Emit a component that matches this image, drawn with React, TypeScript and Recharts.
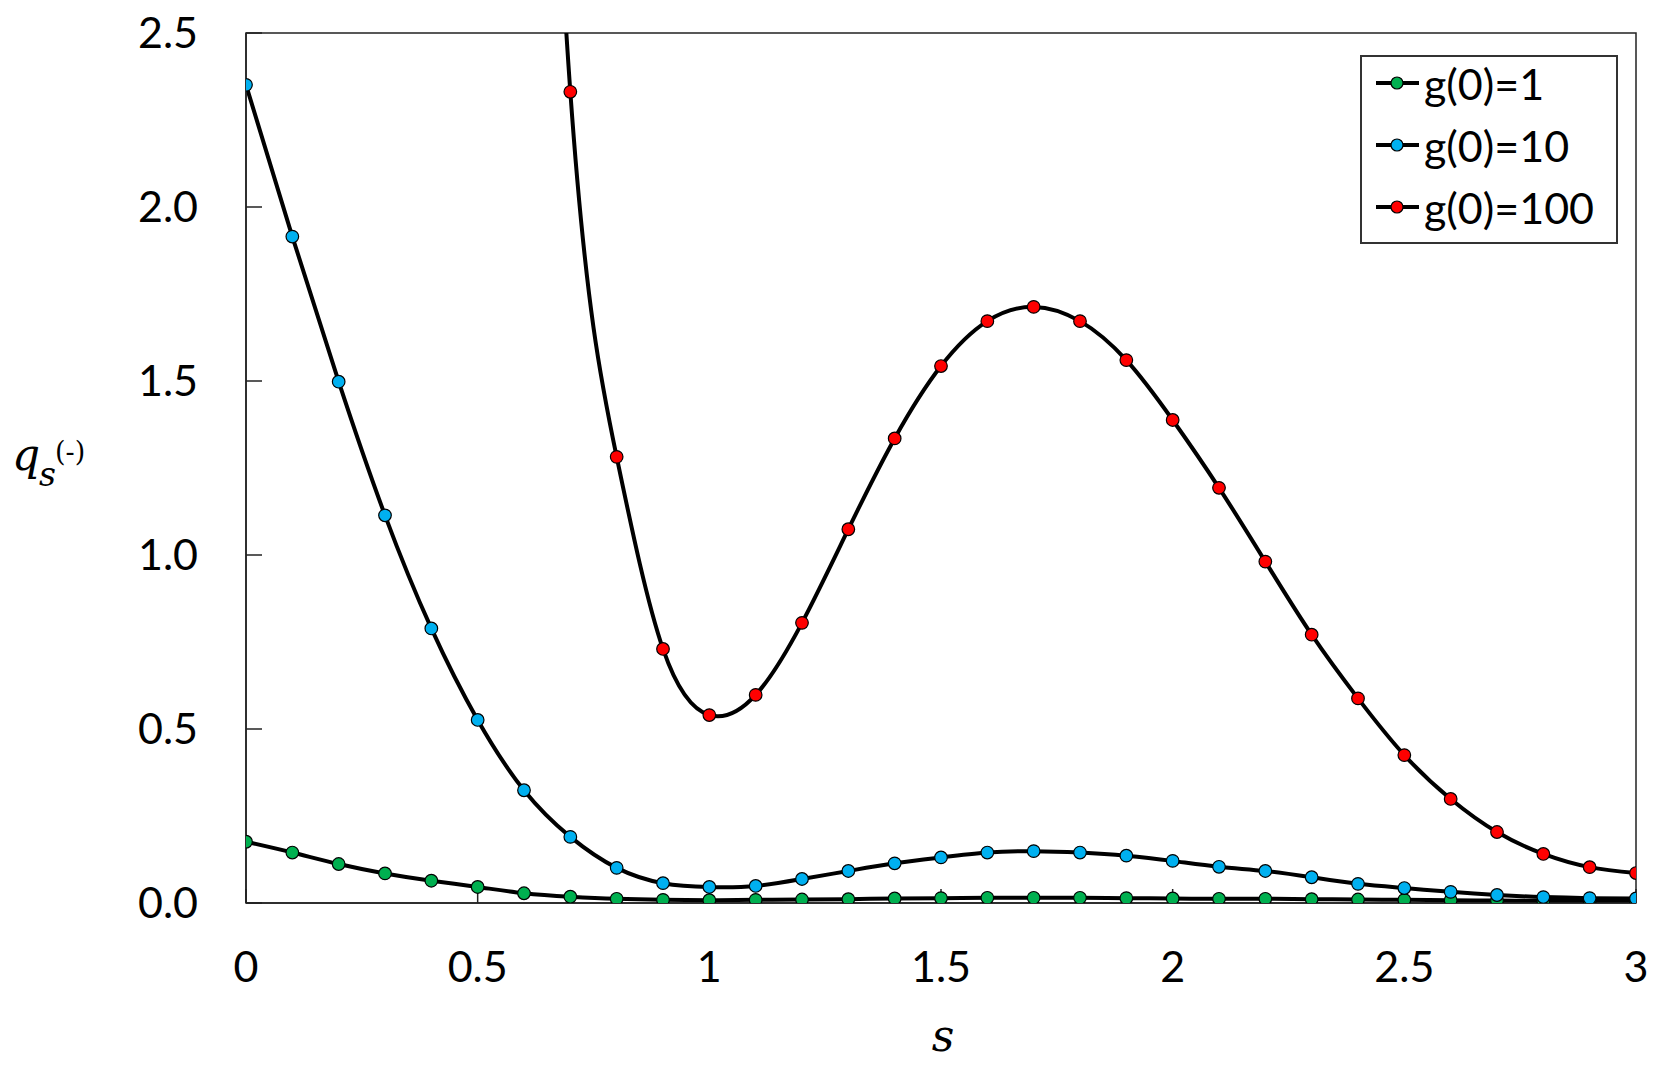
import React from 'react';
import { LineChart, Line, XAxis, YAxis, ReferenceArea } from 'recharts';

// s values, 0 to 3 in steps of 0.1
const S_VALUES = [
  0, 0.1, 0.2, 0.3, 0.4, 0.5, 0.6, 0.7, 0.8, 0.9,
  1.0, 1.1, 1.2, 1.3, 1.4, 1.5, 1.6, 1.7, 1.8, 1.9,
  2.0, 2.1, 2.2, 2.3, 2.4, 2.5, 2.6, 2.7, 2.8, 2.9, 3.0,
];

// g(0)=1
const G1 = [
  0.176, 0.145, 0.112, 0.085, 0.064, 0.046, 0.028, 0.018, 0.012, 0.009,
  0.008, 0.009, 0.010, 0.011, 0.013, 0.014, 0.015, 0.015, 0.015, 0.014,
  0.013, 0.012, 0.012, 0.011, 0.010, 0.009, 0.008, 0.007, 0.006, 0.006, 0.005,
];

// g(0)=10
const G10 = [
  2.351, 1.915, 1.498, 1.114, 0.789, 0.526, 0.324, 0.190, 0.101, 0.057,
  0.046, 0.049, 0.069, 0.092, 0.114, 0.131, 0.145, 0.149, 0.145, 0.136,
  0.121, 0.104, 0.092, 0.074, 0.055, 0.043, 0.032, 0.023, 0.017, 0.014, 0.013,
];

// g(0)=100 (the 0.6 point sits above the visible range and is clipped)
const G100 = [
  null, null, null, null, null, null, 5.0, 2.331, 1.282, 0.730,
  0.540, 0.598, 0.805, 1.074, 1.335, 1.543, 1.672, 1.713, 1.672, 1.560,
  1.388, 1.193, 0.981, 0.771, 0.588, 0.425, 0.299, 0.204, 0.141, 0.103, 0.086,
];

const X_TICKS = [0, 0.5, 1, 1.5, 2, 2.5, 3];
const Y_TICKS = [0, 0.5, 1.0, 1.5, 2.0, 2.5];

const SERIES = [
  { key: 'g1', label: 'g(0)=1', color: '#00b050' },
  { key: 'g10', label: 'g(0)=10', color: '#00b0f0' },
  { key: 'g100', label: 'g(0)=100', color: '#ff0000' },
];

const data = S_VALUES.map((s, i) => ({ s, g1: G1[i], g10: G10[i], g100: G100[i] }));

const TICK_FONT = { fill: '#000', fontSize: 43, fontFamily: 'Lato' };

const App: React.FC = () => {
  return (
    <div style={{ position: 'absolute', left: 0, top: 0, width: 1667, height: 1078, background: '#fff' }}>
      <LineChart width={1667} height={1078} data={data} margin={{ top: 33, right: 31, left: 0, bottom: 115 }}>
        <XAxis
          dataKey="s"
          type="number"
          domain={[0, 3]}
          ticks={X_TICKS}
          interval={0}
          allowDataOverflow
          height={60}
          tickFormatter={(v) => String(v)}
          tick={TICK_FONT}
          tickSize={-14}
          tickMargin={62}
          axisLine={{ stroke: '#222', strokeWidth: 1.5 }}
          tickLine={{ stroke: '#222', strokeWidth: 1.5 }}
        />
        <YAxis
          type="number"
          domain={[0, 2.5]}
          ticks={Y_TICKS}
          interval={0}
          allowDataOverflow
          width={246}
          tickFormatter={(v) => v.toFixed(1)}
          tick={TICK_FONT}
          tickSize={-16}
          tickMargin={64}
          axisLine={{ stroke: '#222', strokeWidth: 1.5 }}
          tickLine={{ stroke: '#222', strokeWidth: 1.5 }}
        />
        {/* plot frame */}
        <ReferenceArea x1={0} x2={3} y1={0} y2={2.5} fill="none" stroke="#222" strokeWidth={1.5} fillOpacity={0} />
        {SERIES.map((ser) => (
          <Line
            key={ser.key}
            dataKey={ser.key}
            type="natural"
            stroke="#000"
            strokeWidth={4}
            dot={{ r: 6.3, fill: ser.color, stroke: '#000', strokeWidth: 1.2 }}
            activeDot={false}
            isAnimationActive={false}
          />
        ))}
      </LineChart>

      {/* axis titles */}
      <svg width={1667} height={1078} style={{ position: 'absolute', left: 0, top: 0, pointerEvents: 'none' }}>
        <text x={12} y={470} fontFamily="DejaVu Serif" fontStyle="italic" fontSize={44} fill="#000">q</text>
        <text x={39} y={486} fontFamily="DejaVu Serif" fontStyle="italic" fontSize={33} fill="#000">s</text>
        <text x={55} y={461} fontFamily="DejaVu Serif" fontSize={27} fill="#000">(-)</text>
        <text x={943} y={1051} textAnchor="middle" fontFamily="DejaVu Serif" fontStyle="italic" fontSize={44} fill="#000">s</text>
      </svg>

      {/* legend */}
      <div
        style={{
          position: 'absolute',
          left: 1360,
          top: 55,
          width: 254,
          height: 185,
          border: '2px solid #333',
          background: '#fff',
          fontFamily: 'Lato',
          fontSize: 43,
        }}
      >
        {SERIES.map((ser, i) => (
          <div
            key={ser.key}
            style={{ position: 'absolute', left: 12, top: 26 + i * 62 - 30, height: 60, display: 'flex', alignItems: 'center' }}
          >
            <svg width={48} height={20}>
              <line x1={2} y1={10} x2={45} y2={10} stroke="#000" strokeWidth={4} />
              <circle cx={23} cy={10} r={6} fill={ser.color} stroke="#000" strokeWidth={1.2} />
            </svg>
            <span style={{ lineHeight: 1, marginLeft: 2 }}>{ser.label}</span>
          </div>
        ))}
      </div>
    </div>
  );
};

export default App;
